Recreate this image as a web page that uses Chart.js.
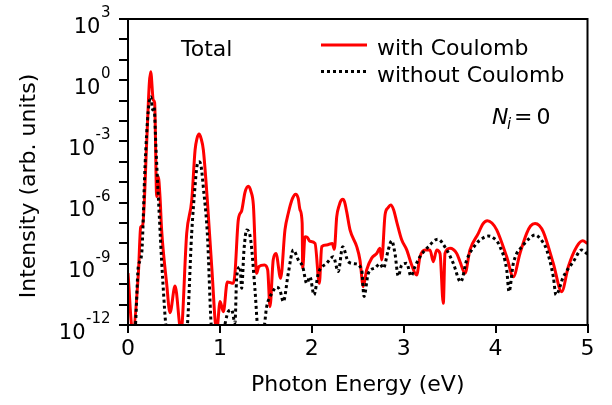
<!DOCTYPE html>
<html>
<head>
<meta charset="utf-8">
<script src="https://cdn.jsdelivr.net/npm/chart.js@4/dist/chart.umd.min.js"></script>
<style>
  html, body { margin: 0; padding: 0; background: #fff; }
  #wrap { width: 612px; height: 405px; }
</style>
</head>
<body>
<div id="wrap"><canvas id="spectrumChart" width="612" height="405"></canvas></div>
<script>
// Values (photon energy in eV, intensity in arb. units)
const withCoulombEnergy = [
  0.000, 0.050, 0.113, 0.138, 0.160, 0.203, 0.232, 0.247, 0.275, 0.290,
  0.312, 0.329, 0.348, 0.366, 0.420, 0.457, 0.512, 0.577, 0.639, 0.694,
  0.730, 0.751, 0.773, 0.795, 0.820, 0.863, 0.911, 0.965, 1.002, 1.038,
  1.081, 1.146, 1.164, 1.200, 1.237, 1.273, 1.310, 1.338, 1.364, 1.400,
  1.423, 1.485, 1.520, 1.545, 1.580, 1.610, 1.661, 1.708, 1.744, 1.790,
  1.825, 1.852, 1.872, 1.895, 1.901, 1.926, 1.950, 1.980, 2.035, 2.082,
  2.108, 2.162, 2.223, 2.245, 2.271, 2.299, 2.318, 2.336, 2.356, 2.380,
  2.416, 2.489, 2.524, 2.560, 2.597, 2.652, 2.706, 2.742, 2.761, 2.797,
  2.830, 2.859, 2.890, 2.924, 2.978, 3.033, 3.087, 3.141, 3.177, 3.232,
  3.286, 3.322, 3.359, 3.395, 3.431, 3.449, 3.504, 3.577, 3.613, 3.667,
  3.721, 3.812, 3.860, 3.910, 3.960, 4.012, 4.121, 4.193, 4.265, 4.338,
  4.380, 4.429, 4.475, 4.519, 4.628, 4.719, 4.791, 4.882, 4.948, 4.998,
];
const withCoulombIntensity = [
  3.5e-10, 5e-13, 3.4e-10, 6.3e-8, 7.9e-8, 8.1e-4, 0.71, 2.6, 0.107, 0.079,
  2.0e-6, 1.9e-5, 2.0e-6, 4.6e-8, 1.15e-10, 4.0e-12, 8.1e-11, 5e-13, 3.2e-8, 1.35e-6,
  3.8e-4, 1.4e-3, 2.3e-3, 1.4e-3, 3.8e-4, 1.35e-6, 7.2e-10, 5e-13, 1.4e-11, 4.5e-12,
  1.3e-10, 1.1e-10, 3.4e-10, 1.4e-7, 4.0e-7, 3.2e-6, 6.3e-6, 3.5e-6, 7.9e-7, 3.4e-10,
  7.2e-10, 8.7e-10, 5.0e-10, 7.9e-12, 1.55e-9, 3.2e-9, 1.95e-10, 4.6e-8, 3.0e-7, 1.6e-6,
  2.6e-6, 1.6e-6, 4.4e-7, 1.0e-7, 6.3e-10, 2.1e-8, 2.0e-8, 1.26e-8, 1.0e-8, 1.1e-10,
  6.9e-9, 8.3e-9, 1.0e-8, 5.1e-9, 2.0e-7, 7.6e-7, 1.26e-6, 1.45e-6, 1.1e-6, 3.5e-7,
  4.6e-8, 6.9e-9, 1.55e-9, 7.6e-11, 5.0e-10, 1.9e-9, 3.2e-9, 5.8e-9, 1.55e-9, 2.5e-7,
  5.6e-7, 7.6e-7, 4.5e-7, 1.15e-7, 1.5e-8, 4.8e-9, 8.7e-10, 2.8e-10, 2.2e-9, 4.8e-9,
  4.8e-9, 1.26e-9, 4.8e-9, 3.2e-9, 1.15e-11, 3.2e-9, 5.8e-9, 3.2e-9, 1.26e-9, 3.4e-10,
  4.8e-9, 3.1e-8, 8.9e-8, 1.3e-7, 1.0e-7, 4.6e-8, 2.2e-9, 2.3e-10, 3.2e-9, 3.1e-8,
  7.1e-8, 9.5e-8, 7.6e-8, 3.7e-8, 1.05e-9, 4.3e-11, 7.2e-10, 6.9e-9, 1.35e-8, 1.0e-8,
];

const withoutCoulombEnergy = [
  0.000, 0.076, 0.112, 0.149, 0.185, 0.221, 0.247, 0.269, 0.283, 0.305,
  0.330, 0.378, 0.421, 0.530, 0.639, 0.693, 0.729, 0.751, 0.773, 0.795,
  0.819, 0.863, 0.911, 0.975, 1.037, 1.091, 1.128, 1.164, 1.183, 1.219,
  1.237, 1.262, 1.292, 1.335, 1.382, 1.418, 1.472, 1.509, 1.564, 1.618,
  1.654, 1.690, 1.744, 1.799, 1.853, 1.901, 1.945, 1.980, 2.024, 2.071,
  2.162, 2.234, 2.288, 2.336, 2.397, 2.470, 2.543, 2.568, 2.615, 2.688,
  2.742, 2.778, 2.832, 2.869, 2.905, 2.941, 2.978, 3.033, 3.079, 3.123,
  3.177, 3.268, 3.370, 3.468, 3.540, 3.620, 3.686, 3.794, 3.860, 3.921,
  3.980, 4.048, 4.121, 4.146, 4.193, 4.301, 4.370, 4.429, 4.490, 4.556,
  4.628, 4.657, 4.737, 4.845, 4.937, 4.998,
];
const withoutCoulombIntensity = [
  1e-13, 5e-13, 7.2e-10, 3.2e-9, 5.8e-5, 0.035, 0.155, 0.035, 0.05, 3.8e-4,
  1.95e-6, 1.6e-10, 5e-13, 1e-13, 5e-13, 3.2e-8, 6.0e-6, 6.3e-5, 1.0e-4, 6.3e-5,
  6.0e-6, 3.2e-8, 5e-13, 1e-13, 5e-13, 4.5e-12, 5.5e-12, 1.26e-12, 2.3e-10, 7.2e-10,
  6.3e-11, 4.8e-9, 4.6e-8, 1.5e-8, 5.2e-11, 5e-13, 5e-13, 7.9e-12, 3.5e-11, 7.1e-11,
  5.0e-11, 1.4e-11, 3.4e-10, 4.8e-9, 1.55e-9, 7.2e-10, 1.1e-10, 2.3e-10, 3.0e-11, 3.4e-10,
  1.05e-9, 2.2e-9, 4.2e-10, 6.9e-9, 1.26e-9, 1.0e-9, 5.0e-10, 2.5e-11, 3.4e-10, 6.3e-10,
  1.0e-9, 6.0e-10, 4.8e-9, 1.35e-8, 3.2e-9, 2.5e-10, 8.7e-10, 1.05e-9, 2.5e-10, 7.2e-10,
  2.2e-9, 6.9e-9, 1.6e-8, 4.8e-9, 1.05e-9, 1.3e-10, 1.55e-9, 1.0e-8, 1.8e-8, 2.3e-8,
  1.8e-8, 6.9e-9, 5.0e-10, 4.3e-11, 1.05e-9, 8.3e-9, 1.8e-8, 2.6e-8, 1.6e-8, 4.8e-9,
  2.3e-10, 3.0e-11, 2.3e-10, 1.26e-9, 4.8e-9, 3.0e-9,
];

// Axis ticks
const xTickStep = 1;
const yTickExponents = [3, 0, -3, -6, -9, -12]; // labelled decades
const yDecadeExponents = [3, 2, 1, 0, -1, -2, -3, -4, -5, -6, -7, -8, -9, -10, -11, -12];

const FONT = "'DejaVu Sans', sans-serif";

const toPoints = (xs, ys) => xs.map((x, i) => ({ x, y: ys[i] }));

// Frame, superscript tick labels, y title, legend and text notes
const decorPlugin = {
  id: "decor",
  afterDraw(chart) {
    const { ctx, chartArea, scales } = chart;
    ctx.save();

    // full box around the plot area
    ctx.strokeStyle = "#000";
    ctx.lineWidth = 2;
    ctx.setLineDash([]);
    ctx.strokeRect(
      chartArea.left,
      chartArea.top,
      chartArea.right - chartArea.left,
      chartArea.bottom - chartArea.top,
    );

    // y tick labels as 10^n
    ctx.fillStyle = "#000";
    ctx.textBaseline = "alphabetic";
    ctx.textAlign = "right";
    yTickExponents.forEach((e) => {
      const y = scales.y.getPixelForValue(Math.pow(10, e));
      const sup = String(e);
      ctx.font = `15px ${FONT}`;
      ctx.fillText(sup, 110.5, y - 2);
      const w = ctx.measureText(sup).width;
      ctx.font = `21px ${FONT}`;
      ctx.fillText("10", 110.5 - w - 0.5, y + 13.5);
    });

    // y axis title
    ctx.save();
    ctx.translate(29, 186);
    ctx.rotate(-Math.PI / 2);
    ctx.textAlign = "center";
    ctx.textBaseline = "middle";
    ctx.font = `22px ${FONT}`;
    ctx.fillText("Intensity (arb. units)", 0, 0);
    ctx.restore();

    // legend
    ctx.textAlign = "left";
    ctx.font = `22px ${FONT}`;
    const legendRows = [
      { lineY: 45, textY: 54.5 },
      { lineY: 71.5, textY: 81.5 },
    ];
    chart.data.datasets.forEach((ds, i) => {
      const row = legendRows[i];
      ctx.strokeStyle = ds.borderColor;
      ctx.lineWidth = ds.borderWidth;
      ctx.setLineDash(ds.borderDash || []);
      ctx.beginPath();
      ctx.moveTo(321, row.lineY);
      ctx.lineTo(367, row.lineY);
      ctx.stroke();
      ctx.fillText(ds.label, 377, row.textY);
    });
    ctx.setLineDash([]);

    // notes
    ctx.fillText("Total", 181, 55.5);
    ctx.font = `italic 22px ${FONT}`;
    ctx.fillText("N", 492, 124);
    ctx.font = `italic 15px ${FONT}`;
    ctx.fillText("i", 507, 129);
    ctx.font = `22px ${FONT}`;
    ctx.fillText("=", 514, 124);
    ctx.fillText("0", 536.5, 124);

    ctx.restore();
  },
};

function initSpectrumChart() {
  const ctx = document.getElementById("spectrumChart").getContext("2d");
  new Chart(ctx, {
    type: "line",
    data: {
      datasets: [
        {
          label: "with Coulomb",
          data: toPoints(withCoulombEnergy, withCoulombIntensity),
          borderColor: "#ff0000",
          borderWidth: 3,
          order: 1,
        },
        {
          label: "without Coulomb",
          data: toPoints(withoutCoulombEnergy, withoutCoulombIntensity),
          borderColor: "#000000",
          borderWidth: 3,
          borderDash: [3, 3],
          order: 0,
        },
      ],
    },
    options: {
      responsive: false,
      animation: false,
      layout: { padding: { left: 0, right: 24.5, top: 19, bottom: 0 } },
      elements: {
        point: { radius: 0 },
        line: { cubicInterpolationMode: "monotone", fill: false },
      },
      plugins: {
        legend: { display: false },
        tooltip: { enabled: false },
      },
      scales: {
        x: {
          type: "linear",
          min: 0,
          max: 5,
          ticks: {
            stepSize: xTickStep,
            color: "#000",
            font: { family: FONT, size: 22 },
            padding: 3,
          },
          grid: {
            drawOnChartArea: false,
            drawTicks: true,
            tickLength: 8,
            color: "#000",
            lineWidth: 2,
          },
          border: { display: true, color: "#000", width: 2 },
          title: {
            display: true,
            text: "Photon Energy (eV)",
            color: "#000",
            font: { family: FONT, size: 22 },
            padding: { top: 0, bottom: 7 },
          },
          afterFit: (scale) => {
            scale.height = 80;
          },
        },
        y: {
          type: "logarithmic",
          min: 1e-12,
          max: 1e3,
          ticks: {
            autoSkip: false,
            callback: () => "",
          },
          afterBuildTicks: (scale) => {
            scale.ticks = yDecadeExponents.map((e) => ({ value: Math.pow(10, e) }));
          },
          grid: {
            drawOnChartArea: false,
            drawTicks: true,
            tickLength: 9,
            color: "#000",
            lineWidth: 2,
          },
          border: { display: true, color: "#000", width: 2 },
          afterFit: (scale) => {
            scale.width = 128;
          },
        },
      },
    },
    plugins: [decorPlugin],
  });
}

initSpectrumChart();
</script>
</body>
</html>
